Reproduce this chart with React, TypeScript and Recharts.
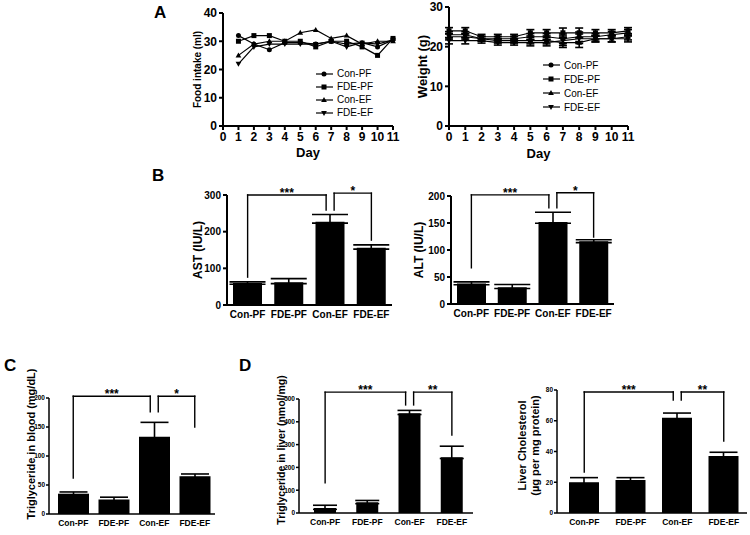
import React from "react";
import {
  LineChart,
  Line,
  BarChart,
  Bar,
  XAxis,
  YAxis,
  ErrorBar,
  Legend,
  ReferenceLine,
} from "recharts";

const FONT = "'Liberation Sans', Arial, Helvetica, sans-serif";

// ---------- A: food intake / body weight ----------
const groups = ["Con-PF", "FDE-PF", "Con-EF", "FDE-EF"];
const dayTicks = [0, 1, 2, 3, 4, 5, 6, 7, 8, 9, 10, 11];

const foodDays = [1, 2, 3, 4, 5, 6, 7, 8, 9, 10, 11];
const foodConPF = [32, 29, 27, 29.5, 29.5, 29, 30, 29, 29.5, 28, 30.5];
const foodFdePF = [30, 32, 32, 30, 30, 28, 30, 30, 28, 25, 31];
const foodConEF = [25, 29, 30, 30, 33, 34, 31, 32, 29, 30, 30];
const foodFdeEF = [22, 28, 29, 29, 29, 29, 30, 28, 29.5, 29, 30.5];

const weightDays = [0, 1, 2, 3, 4, 5, 6, 7, 8, 9, 10, 11];
const weightConPF = [23, 23, 22, 22, 22, 22.5, 22.5, 22, 22.5, 22.5, 23, 23.5];
const weightFdePF = [24, 24, 22.5, 22.5, 22.5, 23.5, 23.5, 23.5, 23.5, 23.5, 23.5, 24];
const weightConEF = [22.5, 22.5, 22, 21.5, 21.5, 21.5, 21.5, 21, 21, 22, 22, 22.5];
const weightFdeEF = [21.5, 21.5, 21.5, 21, 21, 21, 21, 21.5, 22, 22, 22, 22];
const weightSem = [0.8, 0.8, 0.6, 0.6, 0.6, 0.8, 0.8, 1.2, 1.2, 0.8, 0.8, 0.8];

// ---------- B: serum AST / ALT ----------
const astMean = [60, 62, 227, 156];
const astSem = [3, 10, 20, 8];
const altMean = [38, 31, 152, 116];
const altSem = [3, 5, 18, 3];

// ---------- C / D: triglyceride, cholesterol ----------
const tgBloodMean = [35, 25, 133, 65];
const tgBloodSem = [3, 4, 25, 4];
const tgLiverMean = [22, 47, 438, 245];
const tgLiverSem = [12, 8, 12, 48];
const cholMean = [20, 21.5, 62, 37];
const cholSem = [3, 1.5, 3, 2.5];

// significance brackets: value levels of the top bar and both leg ends
type Bracket = { from: string; to: string; top: number; fromEnd: number; toEnd: number; label: string };
const astBrackets: Bracket[] = [
  { from: "Con-PF", to: "Con-EF", top: 300, fromEnd: 76, toEnd: 259, label: "***" },
  { from: "Con-EF", to: "FDE-EF", top: 305, fromEnd: 259, toEnd: 177, label: "*" },
];
const altBrackets: Bracket[] = [
  { from: "Con-PF", to: "Con-EF", top: 202, fromEnd: 67, toEnd: 178, label: "***" },
  { from: "Con-EF", to: "FDE-EF", top: 206, fromEnd: 178, toEnd: 124, label: "*" },
];
const tgBloodBrackets: Bracket[] = [
  { from: "Con-PF", to: "Con-EF", top: 203, fromEnd: 62, toEnd: 176, label: "***" },
  { from: "Con-EF", to: "FDE-EF", top: 203, fromEnd: 176, toEnd: 150, label: "*" },
];
const tgLiverBrackets: Bracket[] = [
  { from: "Con-PF", to: "Con-EF", top: 530, fromEnd: 132, toEnd: 474, label: "***" },
  { from: "Con-EF", to: "FDE-EF", top: 530, fromEnd: 474, toEnd: 342, label: "**" },
];
const cholBrackets: Bracket[] = [
  { from: "Con-PF", to: "Con-EF", top: 78.7, fromEnd: 26.7, toEnd: 73.5, label: "***" },
  { from: "Con-EF", to: "FDE-EF", top: 78.7, fromEnd: 73.5, toEnd: 46.8, label: "**" },
];

const series = [
  { key: "conPF", name: "Con-PF", shape: "circle" },
  { key: "fdePF", name: "FDE-PF", shape: "square" },
  { key: "conEF", name: "Con-EF", shape: "up" },
  { key: "fdeEF", name: "FDE-EF", shape: "down" },
];
const seriesNames = series.map((s) => s.name);
const shapeByName: Record<string, string> = Object.fromEntries(series.map((s) => [s.name, s.shape]));

const foodRows = foodDays.map((d, i) => ({
  day: d,
  conPF: foodConPF[i],
  fdePF: foodFdePF[i],
  conEF: foodConEF[i],
  fdeEF: foodFdeEF[i],
}));

const weightRows = weightDays.map((d, i) => ({
  day: d,
  conPF: weightConPF[i],
  fdePF: weightFdePF[i],
  conEF: weightConEF[i],
  fdeEF: weightFdeEF[i],
  conPFErr: weightSem[i],
  fdePFErr: weightSem[i],
  conEFErr: weightSem[i],
  fdeEFErr: weightSem[i],
}));

// upward-only error bars: the lower cap is tucked just inside the bar top
const barRows = (mean: number[], sem: number[], yMax: number) =>
  groups.map((g, i) => ({ group: g, mean: mean[i], err: [yMax * 0.012, sem[i]] }));

function Marker({ shape, cx, cy, s }: any) {
  if (cx == null || cy == null) return null;
  const h = s / 2;
  if (shape === "circle") return <circle cx={cx} cy={cy} r={h} fill="#000" />;
  if (shape === "square") return <rect x={cx - h} y={cy - h} width={s} height={s} fill="#000" />;
  if (shape === "up")
    return <path d={`M${cx},${cy - h * 1.2}L${cx + h * 1.15},${cy + h * 0.8}L${cx - h * 1.15},${cy + h * 0.8}Z`} fill="#000" />;
  return <path d={`M${cx},${cy + h * 1.2}L${cx + h * 1.15},${cy - h * 0.8}L${cx - h * 1.15},${cy - h * 0.8}Z`} fill="#000" />;
}

const legendContent = (rowH: number, fontSize: number) => (props: any) => {
  const items = [...(props.payload || [])].sort(
    (a: any, b: any) => seriesNames.indexOf(a.value) - seriesNames.indexOf(b.value)
  );
  return (
    <div style={{ fontFamily: FONT, fontSize, color: "#000" }}>
      {items.map((entry: any) => (
        <div key={entry.value} style={{ display: "flex", alignItems: "center", height: rowH }}>
          <svg width={17} height={10} style={{ marginRight: 4 }}>
            <line x1={0} y1={5} x2={17} y2={5} stroke="#000" strokeWidth={1.2} />
            <Marker shape={shapeByName[entry.value]} cx={8} cy={5} s={5} />
          </svg>
          <span>{entry.value}</span>
        </div>
      ))}
    </div>
  );
};

// rotated y-axis title; off = distance left of the axis line
function vLabel(lines: string[], off: number, fs: number, dy = 0, gap = 13) {
  return (props: any) => {
    const vb = props.viewBox || {};
    const cx = vb.x + vb.width - off;
    const cy = vb.y + vb.height / 2 + dy;
    return (
      <text transform={`rotate(-90 ${cx} ${cy})`} textAnchor="middle" fontFamily={FONT} fontSize={fs} fontWeight={700} fill="#000">
        {lines.map((l, i) => (
          <tspan key={i} x={cx} y={cy + i * gap} dominantBaseline="central">
            {l}
          </tspan>
        ))}
      </text>
    );
  };
}

function hLabel(text: string, offY: number, fs: number) {
  return (props: any) => {
    const vb = props.viewBox || {};
    return (
      <text x={vb.x + vb.width / 2} y={vb.y + offY} textAnchor="middle" dominantBaseline="central" fontFamily={FONT} fontSize={fs} fontWeight={700} fill="#000">
        {text}
      </text>
    );
  };
}

function bracketLines(list: Bracket[], sw: number, fs: number) {
  return list.flatMap((b, i) => {
    const dxFrom = i === 1 ? 4 : 0;
    const dxTo = i === 0 ? -4 : 0;
    const seg = (dx1: number, dx2: number, withLabel: boolean) => (p: any) => (
      <g>
        <line x1={p.x1 + dx1} y1={p.y1} x2={p.x2 + dx2} y2={p.y2} stroke="#000" strokeWidth={sw} strokeLinecap="square" />
        {withLabel && (
          <text x={(p.x1 + dx1 + p.x2 + dx2) / 2} y={p.y1 + 2} textAnchor="middle" fontFamily={FONT} fontSize={fs} fontWeight={700} fill="#000">
            {b.label}
          </text>
        )}
      </g>
    );
    return [
      <ReferenceLine key={`t${i}`} ifOverflow="visible" segment={[{ x: b.from, y: b.top }, { x: b.to, y: b.top }]} shape={seg(dxFrom, dxTo, true)} />,
      <ReferenceLine key={`a${i}`} ifOverflow="visible" segment={[{ x: b.from, y: b.top }, { x: b.from, y: b.fromEnd }]} shape={seg(dxFrom, dxFrom, false)} />,
      <ReferenceLine key={`b${i}`} ifOverflow="visible" segment={[{ x: b.to, y: b.top }, { x: b.to, y: b.toEnd }]} shape={seg(dxTo, dxTo, false)} />,
    ];
  });
}

const tickStyle = (fs: number) => ({ fontSize: fs, fontWeight: 700, fill: "#000", fontFamily: FONT });

type BarPanelProps = {
  left: number;
  top: number;
  width: number;
  height: number;
  margin: { top: number; right: number };
  yWidth: number;
  xHeight: number;
  padLeft: number;
  data: any[];
  domain: [number, number];
  ticks: number[];
  barSize: number;
  capWidth: number;
  brackets: Bracket[];
  label: (props: any) => any;
  axisW: number;
  xFont: number;
  yFont: number;
  yTickSize: number;
  yTickMargin: number;
};

function BarPanel(p: BarPanelProps) {
  return (
    <div style={{ position: "absolute", left: p.left, top: p.top }}>
      <BarChart width={p.width} height={p.height} data={p.data} margin={{ top: p.margin.top, right: p.margin.right, left: 0, bottom: 0 }}>
        <XAxis
          dataKey="group"
          height={p.xHeight}
          interval={0}
          tickLine={false}
          tickSize={4}
          padding={{ left: p.padLeft, right: 0 }}
          axisLine={{ stroke: "#000", strokeWidth: p.axisW }}
          tick={tickStyle(p.xFont)}
        />
        <YAxis
          width={p.yWidth}
          domain={p.domain}
          ticks={p.ticks}
          interval={0}
          tickSize={p.yTickSize}
          tickMargin={p.yTickMargin}
          axisLine={{ stroke: "#000", strokeWidth: p.axisW }}
          tickLine={{ stroke: "#000", strokeWidth: p.axisW }}
          tick={tickStyle(p.yFont)}
          label={{ content: p.label }}
        />
        <Bar dataKey="mean" fill="#000" barSize={p.barSize} isAnimationActive={false}>
          <ErrorBar dataKey="err" width={p.capWidth} stroke="#000" strokeWidth={1.6} direction="y" />
        </Bar>
        {bracketLines(p.brackets, 1.4, 12)}
      </BarChart>
    </div>
  );
}

const letter = (ch: string, left: number, top: number) => (
  <div style={{ position: "absolute", left, top, fontSize: 17, lineHeight: "17px", fontWeight: 700, fontFamily: FONT, color: "#000" }}>{ch}</div>
);

export default function App() {
  return (
    <div style={{ position: "absolute", left: 0, top: 0, width: 750, height: 535, background: "#fff", overflow: "hidden" }}>
      {/* A left: food intake */}
      <div style={{ position: "absolute", left: 165, top: 0 }}>
        <LineChart width={240} height={165} data={foodRows} margin={{ top: 13, right: 12, left: 0, bottom: 0 }}>
          <XAxis
            type="number"
            dataKey="day"
            domain={[0, 11]}
            ticks={dayTicks}
            interval={0}
            height={39}
            tickSize={4}
            axisLine={{ stroke: "#000", strokeWidth: 2 }}
            tickLine={{ stroke: "#000", strokeWidth: 2 }}
            tick={tickStyle(12)}
            label={{ content: hLabel("Day", 26, 13) }}
          />
          <YAxis
            width={58}
            domain={[0, 40]}
            ticks={[0, 10, 20, 30, 40]}
            interval={0}
            tickSize={4}
            axisLine={{ stroke: "#000", strokeWidth: 2 }}
            tickLine={{ stroke: "#000", strokeWidth: 2 }}
            tick={tickStyle(12)}
            label={{ content: vLabel(["Food intake (ml)"], 26, 10) }}
          />
          <Legend layout="vertical" align="center" verticalAlign="middle" content={legendContent(13, 10)} wrapperStyle={{ left: 151, top: 67, width: 90 }} />
          {series.map((s) => (
            <Line
              key={s.key}
              dataKey={s.key}
              name={s.name}
              stroke="#000"
              strokeWidth={1.2}
              isAnimationActive={false}
              dot={(d: any) => <Marker key={`${s.key}-${d.index}`} shape={s.shape} cx={d.cx} cy={d.cy} s={5} />}
            />
          ))}
        </LineChart>
      </div>

      {/* A right: body weight */}
      <div style={{ position: "absolute", left: 395, top: 0 }}>
        <LineChart width={245} height={165} data={weightRows} margin={{ top: 7, right: 12, left: 0, bottom: 0 }}>
          <XAxis
            type="number"
            dataKey="day"
            domain={[0, 11]}
            ticks={dayTicks}
            interval={0}
            height={39}
            tickSize={4}
            axisLine={{ stroke: "#000", strokeWidth: 2 }}
            tickLine={{ stroke: "#000", strokeWidth: 2 }}
            tick={tickStyle(12)}
            label={{ content: hLabel("Day", 27, 13) }}
          />
          <YAxis
            width={54}
            domain={[0, 30]}
            ticks={[0, 10, 20, 30]}
            interval={0}
            tickSize={4}
            axisLine={{ stroke: "#000", strokeWidth: 2 }}
            tickLine={{ stroke: "#000", strokeWidth: 2 }}
            tick={tickStyle(12)}
            label={{ content: vLabel(["Weight (g)"], 27, 13) }}
          />
          <Legend layout="vertical" align="center" verticalAlign="middle" content={legendContent(14, 10)} wrapperStyle={{ left: 148, top: 58, width: 90 }} />
          {series.map((s) => (
            <Line
              key={s.key}
              dataKey={s.key}
              name={s.name}
              stroke="#000"
              strokeWidth={1.2}
              isAnimationActive={false}
              dot={(d: any) => <Marker key={`${s.key}-${d.index}`} shape={s.shape} cx={d.cx} cy={d.cy} s={5} />}
            >
              <ErrorBar dataKey={`${s.key}Err`} width={4} stroke="#000" strokeWidth={1.6} direction="y" />
            </Line>
          ))}
        </LineChart>
      </div>

      {/* B */}
      <BarPanel
        left={150} top={180} width={250} height={147}
        margin={{ top: 15, right: 8 }} yWidth={77} xHeight={22} padLeft={0}
        data={barRows(astMean, astSem, 300)} domain={[0, 300]} ticks={[0, 100, 200, 300]}
        barSize={29} capWidth={18} brackets={astBrackets}
        label={vLabel(["AST (IU/L)"], 29, 12)} axisW={2} xFont={10} yFont={10} yTickSize={4} yTickMargin={2}
      />
      <BarPanel
        left={400} top={180} width={222} height={146}
        margin={{ top: 16, right: 8 }} yWidth={51} xHeight={22} padLeft={0}
        data={barRows(altMean, altSem, 200)} domain={[0, 200]} ticks={[0, 50, 100, 150, 200]}
        barSize={29} capWidth={18} brackets={altBrackets}
        label={vLabel(["ALT (IU/L)"], 32, 12)} axisW={2} xFont={10} yFont={10} yTickSize={4} yTickMargin={2}
      />

      {/* C */}
      <BarPanel
        left={0} top={355} width={230} height={180}
        margin={{ top: 43, right: 15 }} yWidth={49} xHeight={21} padLeft={4}
        data={barRows(tgBloodMean, tgBloodSem, 200)} domain={[0, 200]} ticks={[0, 50, 100, 150, 200]}
        barSize={31} capWidth={14} brackets={tgBloodBrackets}
        label={vLabel(["Triglyceride in blood (mg/dL)"], 18, 11, -12)} axisW={1.5} xFont={8.5} yFont={6.5} yTickSize={3} yTickMargin={1}
      />

      {/* D */}
      <BarPanel
        left={250} top={355} width={240} height={180}
        margin={{ top: 44, right: 17 }} yWidth={49} xHeight={22} padLeft={5}
        data={barRows(tgLiverMean, tgLiverSem, 500)} domain={[0, 500]} ticks={[0, 100, 200, 300, 400, 500]}
        barSize={22} capWidth={12} brackets={tgLiverBrackets}
        label={vLabel(["Triglyceride in liver (nmol/mg)"], 18, 10.5, -6)} axisW={1.5} xFont={8.5} yFont={6.5} yTickSize={3} yTickMargin={1}
      />
      <BarPanel
        left={500} top={355} width={250} height={180}
        margin={{ top: 35, right: 3 }} yWidth={57} xHeight={22} padLeft={4}
        data={barRows(cholMean, cholSem, 80)} domain={[0, 80]} ticks={[0, 20, 40, 60, 80]}
        barSize={30} capWidth={14} brackets={cholBrackets}
        label={vLabel(["Liver Cholesterol", "(µg per mg protein)"], 35, 11, -6)} axisW={1.5} xFont={8.5} yFont={6.5} yTickSize={3} yTickMargin={1}
      />

      {letter("A", 154, 4)}
      {letter("B", 152, 167)}
      {letter("C", 4, 357)}
      {letter("D", 239, 357)}
    </div>
  );
}
